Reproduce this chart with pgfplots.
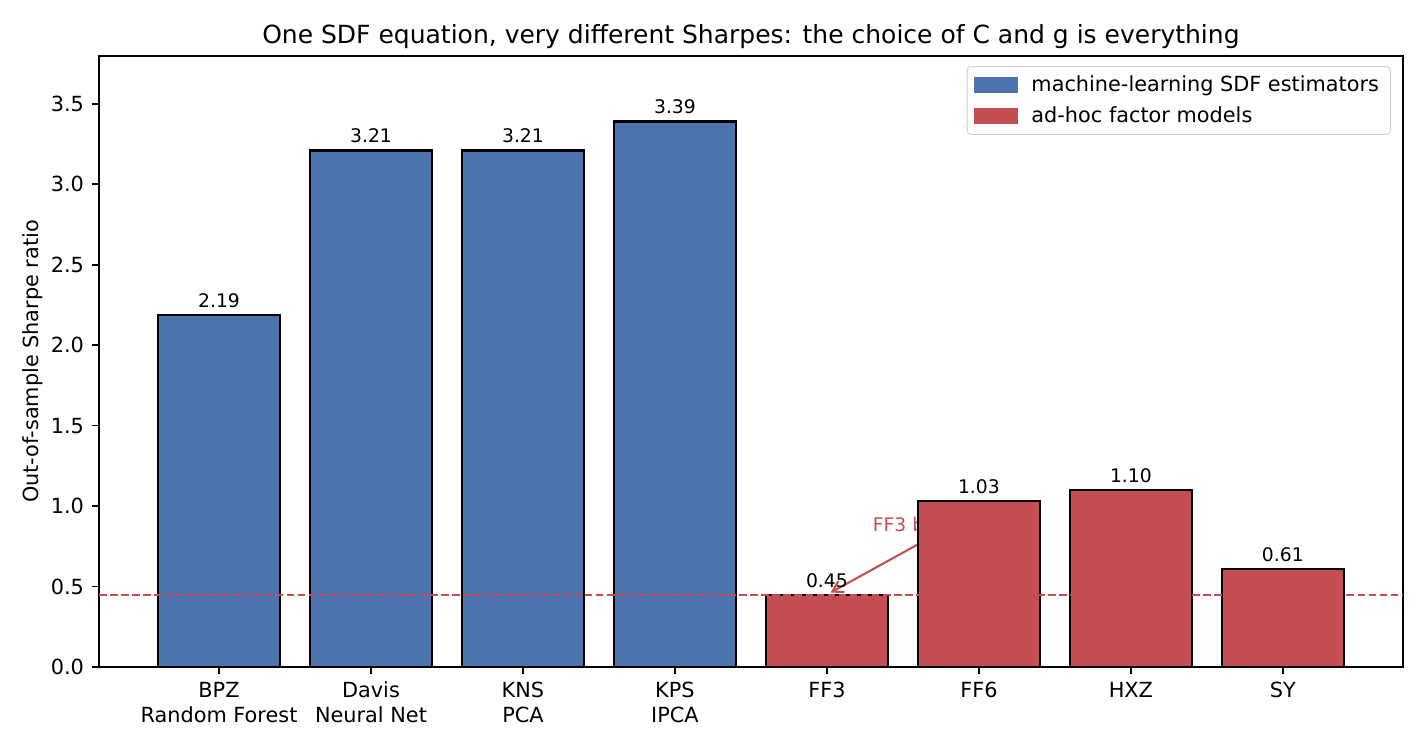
\documentclass[border=0pt]{standalone}
\usepackage{fontspec}
\setmainfont{DejaVu Sans}
\usepackage{pgfplots}
\pgfplotsset{compat=1.18}
\usetikzlibrary{calc,arrows.meta}
\definecolor{mlblue}{HTML}{4C72B0}
\definecolor{adred}{HTML}{C44E52}

\begin{document}
\begin{tikzpicture}
\begin{axis}[
  scale only axis,
  width=626pt, height=293.3pt,
  xmin=-0.79, xmax=7.79,
  ymin=0, ymax=3.797,
  axis line style={line width=0.8pt},
  tick style={line width=0.8pt, black},
  tick align=outside,
  major tick length=3.5pt,
  xtick={0,1,2,3,4,5,6,7},
  xticklabels={{BPZ\\Random Forest},{Davis\\Neural Net},{KNS\\PCA},{KPS\\IPCA},FF3,FF6,HXZ,SY},
  xticklabel style={align=center, font=\fontsize{10}{12}\selectfont, inner sep=0pt, yshift=-3.5pt},
  xtick pos=bottom,
  ytick={0,0.5,1,1.5,2,2.5,3,3.5},
  ytick pos=left,
  yticklabel style={font=\fontsize{10}{12}\selectfont, inner sep=0pt, xshift=-3.5pt,
    /pgf/number format/.cd, fixed, fixed zerofill, precision=1},
  /pgf/number format/assume math mode=true,
  ylabel={Out-of-sample Sharpe ratio},
  ylabel style={font=\fontsize{10}{12}\selectfont, at={(axis description cs:-0.0511,0.5)}, anchor=center},
  title={One SDF equation, very different Sharpes: the choice of C and g is everything},
  title style={font=\fontsize{12}{14}\selectfont, at={(axis description cs:0.5,1)}, anchor=base, yshift=0pt},
  legend style={at={(axis description cs:1,1)}, anchor=north east, xshift=-5.8pt, yshift=-4.8pt,
    draw=black!20, rounded corners=2pt, font=\fontsize{10}{12}\selectfont,
    inner xsep=3.5pt, inner ysep=2.5pt, row sep=1.5pt},
  legend cell align=left,
  bar shift=0pt,
  point meta=y,
  nodes near coords={\pgfmathprintnumber[fixed, fixed zerofill, precision=2]{\pgfplotspointmeta}},
  every node near coord/.append style={font=\fontsize{9}{11}\selectfont, black, inner sep=0pt, anchor=south, yshift=3pt},
]
% machine-learning SDF estimators
\addplot[ybar, bar width=0.8, fill=mlblue, draw=black, line width=1pt, forget plot]
  coordinates {(0,2.19) (1,3.21) (2,3.21) (3,3.39)};

% annotation pointing at the FF3 benchmark level
\node[adred, anchor=base west, inner sep=0pt, font=\fontsize{9}{11}\selectfont] at (axis cs:4.30,0.84) {FF3 benchmark};
\draw[adred, line width=1pt, -{Straight Barb[length=5pt,width=6pt]}, shorten >=2pt]
  (axis cs:4.664,0.796) -- (axis cs:4,0.45);

% ad-hoc factor models
\addplot[ybar, bar width=0.8, fill=adred, draw=black, line width=1pt, forget plot]
  coordinates {(4,0.45) (5,1.03) (6,1.10) (7,0.61)};

% FF3 reference level
\addplot[adred, line width=1pt, dash pattern=on 3.7pt off 1.6pt, nodes near coords={}, forget plot]
  coordinates {(-0.79,0.45) (7.79,0.45)};

\addlegendimage{legend image code/.code={\fill[mlblue, sharp corners] (0pt,-3.6pt) rectangle (20.6pt,3.6pt); \path (25pt,0pt);}}
\addlegendentry{machine-learning SDF estimators}
\addlegendimage{legend image code/.code={\fill[adred, sharp corners] (0pt,-3.6pt) rectangle (20.6pt,3.6pt); \path (25pt,0pt);}}
\addlegendentry{ad-hoc factor models}
\end{axis}
\pgfresetboundingbox
\path ($(current axis.south west)+(-47.5pt,-39.8pt)$) rectangle ($(current axis.north east)+(10.6pt,26.9pt)$);
\end{tikzpicture}
\end{document}
